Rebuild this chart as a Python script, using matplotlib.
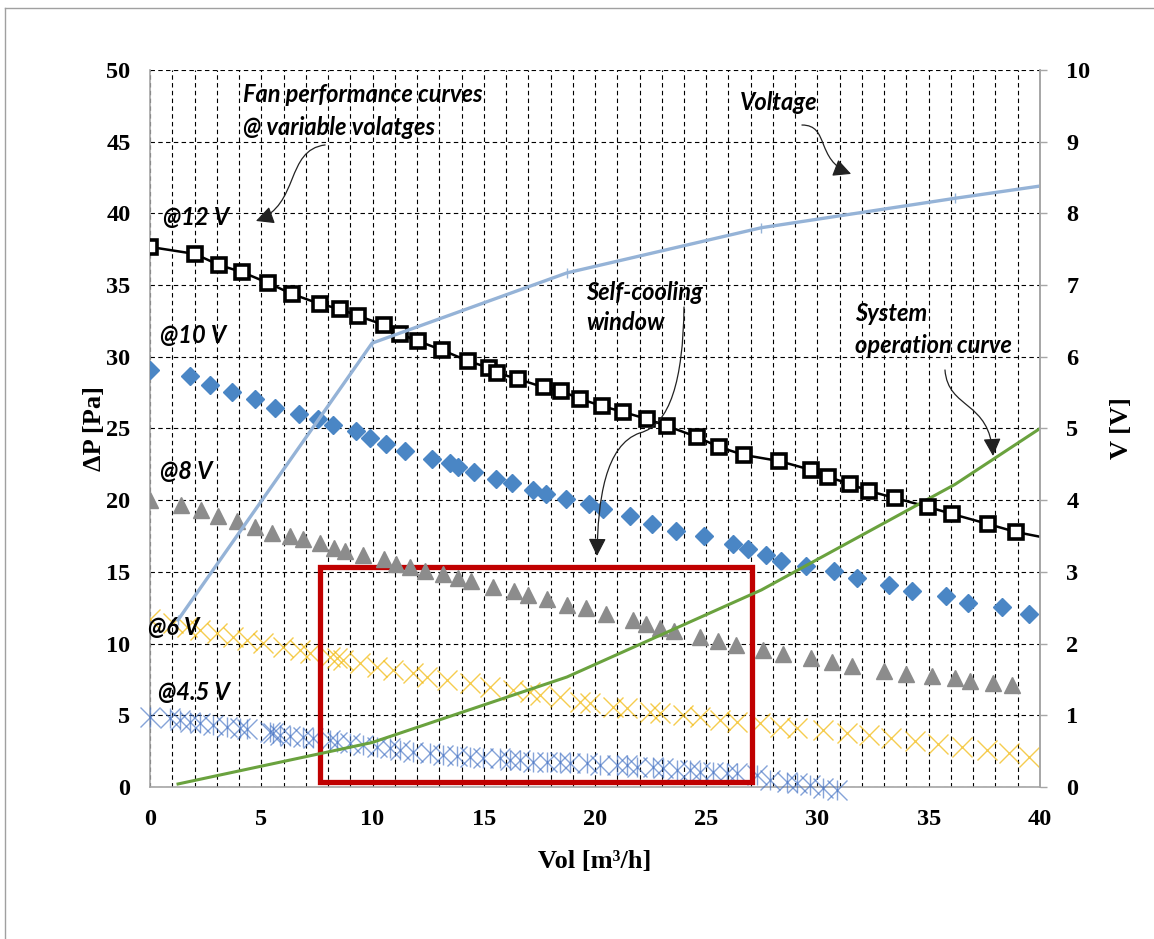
import matplotlib.pyplot as plt
from matplotlib.patches import Rectangle, FancyArrowPatch
from matplotlib.path import Path
from matplotlib.lines import Line2D

# fan curve @12 V (open squares + connecting line)
q12 = [0, 2.02, 3.10, 4.13, 5.30, 6.38, 7.64, 8.54, 9.35, 10.52, 11.24, 12.04, 13.12,
       14.29, 15.24, 15.6, 16.54, 17.71, 18.47, 19.33, 20.31, 21.26, 22.34, 23.24,
       24.58, 25.57, 26.70, 28.27, 29.71, 30.47, 31.46, 32.31, 33.48, 34.97, 36.04,
       37.66, 38.92]
p12 = [37.66, 37.17, 36.40, 35.91, 35.15, 34.38, 33.68, 33.33, 32.85, 32.22, 31.59,
       31.10, 30.47, 29.71, 29.22, 28.87, 28.45, 27.86, 27.62, 27.06, 26.57, 26.15,
       25.66, 25.17, 24.41, 23.71, 23.15, 22.73, 22.11, 21.62, 21.13, 20.64, 20.15,
       19.53, 19.04, 18.34, 17.78]
end12_q = 40
end12_p = 17.45

# @10 V
q10 = [0, 1.8, 2.7, 3.69, 4.72, 5.62, 6.70, 7.55, 8.22, 9.26, 9.89, 10.61, 11.46,
       12.67, 13.48, 13.84, 14.56, 15.55, 16.27, 17.21, 17.8, 18.70, 19.73, 20.36,
       21.57, 22.56, 23.64, 24.90, 26.20, 26.88, 27.69, 28.36, 29.48, 30.74, 31.78,
       33.21, 34.25, 35.78, 36.76, 38.29, 39.51]
p10 = [29.08, 28.66, 28.03, 27.55, 27.06, 26.43, 26.01, 25.66, 25.24, 24.83, 24.34,
       23.92, 23.43, 22.87, 22.59, 22.32, 21.97, 21.48, 21.20, 20.71, 20.43, 20.08,
       19.73, 19.39, 18.90, 18.34, 17.85, 17.50, 16.95, 16.60, 16.18, 15.76, 15.41,
       15.06, 14.57, 14.09, 13.67, 13.32, 12.83, 12.55, 12.06]

# @8 V
q8 = [0, 1.39, 2.29, 3.06, 3.91, 4.72, 5.48, 6.29, 6.88, 7.64, 8.27, 8.76, 9.57,
      10.52, 11.06, 11.69, 12.36, 13.17, 13.84, 14.43, 15.42, 16.36, 16.99, 17.84,
      18.74, 19.6, 20.49, 21.71, 22.29, 22.92, 23.55, 24.72, 25.53, 26.34, 27.55,
      28.45, 29.71, 30.65, 31.55, 32.99, 33.98, 35.15, 36.18, 36.85, 37.89, 38.74]
p8 = [20.01, 19.67, 19.32, 18.90, 18.55, 18.13, 17.71, 17.50, 17.29, 17.02, 16.67,
      16.46, 16.18, 15.90, 15.55, 15.34, 15.06, 14.85, 14.57, 14.37, 13.95, 13.67,
      13.39, 13.11, 12.69, 12.48, 12.06, 11.65, 11.37, 11.09, 10.88, 10.46, 10.18,
      9.90, 9.55, 9.27, 9.00, 8.72, 8.44, 8.09, 7.88, 7.74, 7.60, 7.39, 7.25, 7.11]

# @6 V
q6 = [0, 1.03, 1.66, 2.25, 3.01, 3.73, 4.36, 5.08, 5.98, 6.74, 7.19, 8.09, 8.40, 8.67,
      9.44, 10.2, 10.92, 11.82, 12.45, 13.35, 14.38, 15.28, 16.31, 17.08, 17.53,
      18.43, 19.33, 19.78, 20.81, 21.44, 22.47, 22.92, 23.96, 24.72, 25.62, 26.38,
      27.42, 28.31, 29.08, 30.25, 31.33, 32.3, 33.3, 34.4, 35.4, 36.5, 37.6, 38.6, 39.5]
p6 = [11.7, 11.44, 11.16, 10.95, 10.74, 10.46, 10.25, 10.04, 9.76, 9.55, 9.34, 9.07,
      9.0, 8.86, 8.65, 8.37, 8.16, 7.95, 7.67, 7.46, 7.25, 6.97, 6.76, 6.62, 6.42,
      6.28, 5.93, 5.86, 5.58, 5.51, 5.23, 5.16, 5.02, 4.88, 4.67, 4.53, 4.46, 4.18,
      4.11, 3.97, 3.77, 3.6, 3.4, 3.2, 3.0, 2.8, 2.6, 2.4, 2.1]

# @4.5 V
q45 = [0, 0.9, 1.35, 1.8, 2.25, 2.83, 3.46, 4.04, 4.36, 5.39, 5.53, 5.84, 6.29, 6.88,
       7.33, 8.09, 8.40, 8.99, 9.57, 10.2, 10.79, 11.24, 11.82, 12.58, 13.17, 13.8,
       14.38, 14.97, 15.73, 16.18, 16.63, 17.21, 17.84, 18.43, 18.88, 19.64, 20.22,
       20.99, 21.44, 21.89, 22.61, 23.06, 23.69, 24.27, 24.72, 25.30, 25.93, 26.38,
       27.28, 27.87, 28.63, 29.08, 29.66, 30.25, 30.88]
p45 = [4.88, 4.81, 4.67, 4.53, 4.46, 4.32, 4.18, 4.11, 4.04, 3.84, 3.77, 3.63, 3.56,
       3.49, 3.42, 3.28, 3.14, 3.07, 2.93, 2.79, 2.72, 2.58, 2.44, 2.37, 2.23, 2.16,
       2.09, 2.05, 2.02, 1.88, 1.88, 1.74, 1.74, 1.74, 1.67, 1.67, 1.53, 1.53, 1.53,
       1.39, 1.39, 1.32, 1.19, 1.19, 1.05, 1.05, 0.98, 0.98, 0.84, 0.49, 0.35, 0.28,
       0.14, -0.07, -0.21]

# operating points: supply voltage [V] and system pressure [Pa]
q_sys = [1.26, 9.98, 18.74, 27.48, 36.18, 44.9]
volt = [2.33, 6.19, 7.17, 7.80, 8.21, 8.60]
p_sys = [0.21, 3.1, 7.67, 13.74, 21.1, 30.0]

# self-cooling window
win_q = [7.64, 27.06]
win_p = [0.35, 15.34]

serif = "Liberation Serif"
note = dict(family=["Lato", "DejaVu Sans"], style="italic", weight="bold",
            fontsize=17, color="black")

fig = plt.figure(figsize=(11.54, 9.39), dpi=100)
ax = fig.add_axes([0.13, 0.1619, 0.7712, 0.7636])

ax.set_xlim(0, 40)
ax.set_ylim(0, 50)
ax.set_xticks(range(0, 41, 5))
ax.set_xticks(range(0, 41), minor=True)
ax.set_yticks(range(0, 51, 5))
ax.grid(True, which="both", axis="x", color="black", lw=0.8, ls=(0, (4, 3)))
ax.grid(True, which="major", axis="y", color="black", lw=0.8, ls=(0, (4, 3)))
ax.set_axisbelow(True)
for s in ["left", "bottom", "right"]:
    ax.spines[s].set_color("#a6a6a6")
    ax.spines[s].set_linewidth(1.2)
ax.spines["top"].set_visible(False)
ax.tick_params(which="both", length=0)
ax.tick_params(axis="y", pad=14)
ax.tick_params(axis="x", pad=16)
for lab in ax.get_xticklabels() + ax.get_yticklabels():
    lab.set_fontfamily(serif)
    lab.set_fontweight("bold")
    lab.set_fontsize(17.5)

ax.plot(q45, p45, ls="none", marker="x", ms=14, mew=1, color="#4472c4", alpha=0.65,
        clip_on=False, zorder=3)
ax.plot(q45, p45, ls="none", marker="|", ms=14, mew=1, color="#4472c4", alpha=0.65,
        clip_on=False, zorder=3)
ax.plot(q6, p6, ls="none", marker="x", ms=14, mew=1, color="#f2b705", alpha=0.7,
        zorder=3)
ax.add_patch(Rectangle((win_q[0], win_p[0]), win_q[1] - win_q[0], win_p[1] - win_p[0],
                       fill=False, ec="#c00000", lw=3.8, zorder=3.5))
ax.plot(q8, p8, ls="none", marker="^", ms=11, color="#8c8c8c", zorder=4)
ax.plot(q10, p10, ls="none", marker="D", ms=9, color="#4a86c5", zorder=4)
ax.plot(q12 + [end12_q], p12 + [end12_p], color="black", lw=1.8, zorder=4)
ax.plot(q12, p12, ls="none", marker="s", ms=10.5, mfc="white", mec="black", mew=2.6,
        zorder=5)
ax.plot(q_sys, p_sys, color="#6aa23e", lw=2.2, zorder=4)

ax2 = ax.twinx()
ax2.set_ylim(0, 10)
ax2.set_yticks(range(0, 11))
ax2.spines["right"].set_color("#a6a6a6")
ax2.spines["right"].set_linewidth(1.2)
for s in ["left", "top", "bottom"]:
    ax2.spines[s].set_visible(False)
ax2.tick_params(axis="y", length=5, width=1, color="#a6a6a6", pad=14)
for lab in ax2.get_yticklabels():
    lab.set_fontfamily(serif)
    lab.set_fontweight("bold")
    lab.set_fontsize(17.5)
ax2.plot(q_sys, volt, color="#95b3d7", lw=2.4, marker="|", ms=7, mew=1)

ax.set_xlabel("Vol [m³/h]", family=serif, weight="bold", fontsize=19)
ax.set_ylabel("ΔP [Pa]", family=serif, weight="bold", fontsize=19)
ax2.set_ylabel("V [V]", family=serif, weight="bold", fontsize=19, rotation=90)
ax.xaxis.set_label_coords(0.5, -0.088)
ax.yaxis.set_label_coords(-0.05, 0.5)
ax2.yaxis.set_label_coords(1.079, 0.5)

# labels
ax.text(4.18, 48.3, "Fan performance curves", va="center", **note)
ax.text(4.18, 46.0, "@ variable volatges", va="center", **note)
ax.text(0.58, 39.7, "@12 V", va="center", **note)
ax.text(0.45, 31.5, "@10 V", va="center", **note)
ax.text(0.45, 22.0, "@8 V", va="center", **note)
ax.text(-0.09, 11.1, "@6 V", va="center", **note)
ax.text(0.36, 6.6, "@4.5 V", va="center", **note)
ax.text(26.5, 47.7, "Voltage", va="center", **note)
ax.text(19.6, 34.5, "Self-cooling", va="center", **note)
ax.text(19.6, 32.4, "window", va="center", **note)
ax.text(31.7, 33.05, "System", va="center", **note)
ax.text(31.7, 30.8, "operation curve", va="center", **note)

# curved pointer arrows
C = Path.CURVE4
arrows = [
    ([(7.87, 44.77), (6.07, 44.42), (6.74, 40.59), (4.76, 39.47)], [Path.MOVETO, C, C, C]),
    ([(29.30, 46.16), (30.56, 46.16), (29.89, 43.72), (31.51, 42.75)], [Path.MOVETO, C, C, C]),
    ([(24.0, 33.47), (23.96, 28.38), (23.37, 25.24), (22.02, 24.69),
      (20.45, 23.85), (20.13, 20.01), (20.09, 16.11)], [Path.MOVETO, C, C, C, C, C, C]),
    ([(35.73, 29.08), (35.87, 26.29), (37.75, 26.99), (37.89, 23.08)], [Path.MOVETO, C, C, C]),
]
for verts, codes in arrows:
    a = FancyArrowPatch(path=Path(verts, codes), arrowstyle="-|>,head_length=0.6,head_width=0.3",
                        mutation_scale=18, lw=0.9, color="#222222", zorder=6)
    ax.add_patch(a)

# outer frame
fig.add_artist(Line2D([5 / 1154, 5 / 1154], [0, 1 - 8 / 939], color="#a0a0a0", lw=1))
fig.add_artist(Line2D([5 / 1154, 1], [1 - 8 / 939, 1 - 8 / 939], color="#a0a0a0", lw=1))

fig.savefig("out.png", dpi=100)
